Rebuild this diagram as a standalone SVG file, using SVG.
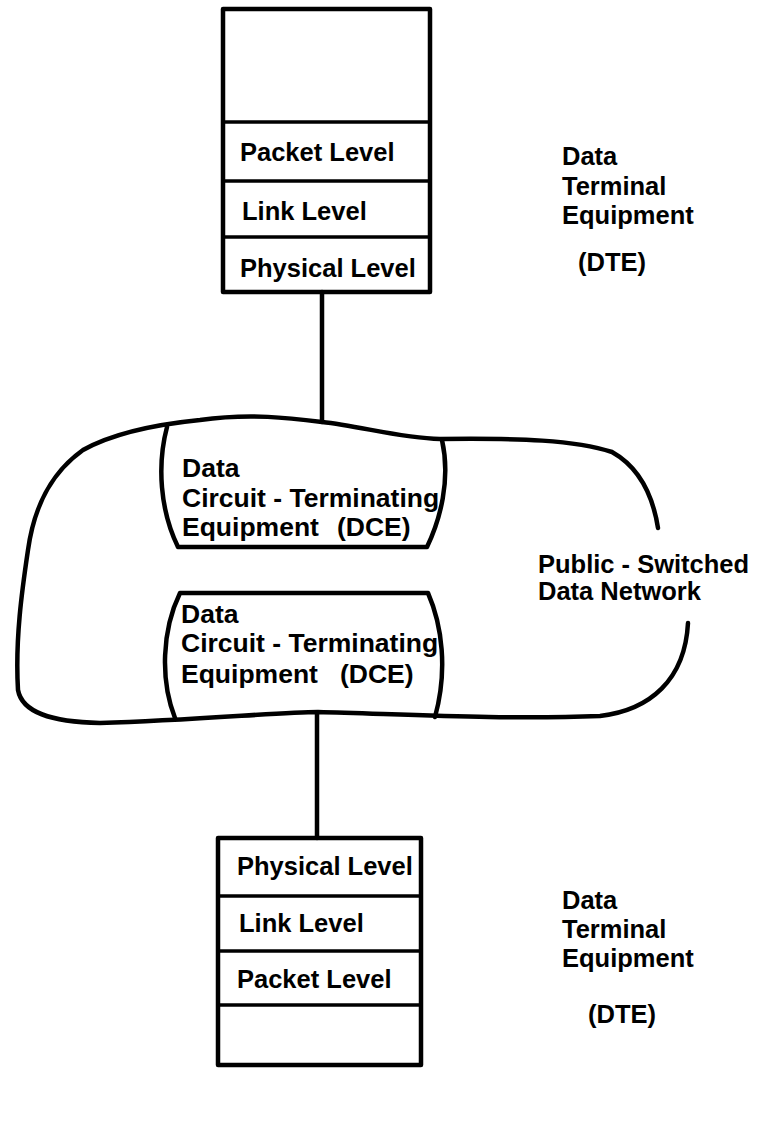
<svg xmlns="http://www.w3.org/2000/svg" width="757" height="1133" viewBox="0 0 757 1133">
<style>
.ln{fill:none;stroke:#000;stroke-width:4.5;stroke-linejoin:round;stroke-linecap:round}
.dv{fill:none;stroke:#000;stroke-width:3.5}
.t{font-family:"Liberation Sans",Arial,sans-serif;font-weight:bold;font-size:25.5px;fill:#000}
.d{font-size:26.5px}
</style>
<rect width="757" height="1133" fill="#fff"/>
<g id="connectors">
<line class="ln" x1="322" y1="292" x2="322" y2="422"/>
<line class="ln" x1="317" y1="713" x2="317" y2="838"/>
</g>
<g id="network">
<path class="ln" d="M 658,528 C 652,490 635,465 612,452 C 575,440 520,438 440,439 C 400,438 360,426 322,422 C 290,418 250,413 200,420 C 150,425 110,435 83,450 C 55,470 35,500 28,550 C 22,590 15,640 18,690 C 22,712 50,722 100,723 C 200,720 280,712 318,712 C 400,714 500,720 600,716 C 650,710 685,680 688,623"/>
<text class="t" x="538" y="573">Public - Switched</text>
<text class="t" x="538" y="600">Data Network</text>
</g>
<g id="dte-top">
<rect class="ln" x="223" y="9" width="207" height="283"/>
<line class="dv" x1="223" y1="122" x2="430" y2="122"/>
<line class="dv" x1="223" y1="181" x2="430" y2="181"/>
<line class="dv" x1="223" y1="237" x2="430" y2="237"/>
<text class="t" x="240" y="161">Packet Level</text>
<text class="t" x="242" y="220">Link Level</text>
<text class="t" x="240" y="277">Physical Level</text>
</g>
<g id="dte-top-label">
<text class="t" x="562" y="165">Data</text>
<text class="t" x="562" y="195">Terminal</text>
<text class="t" x="562" y="224">Equipment</text>
<text class="t" x="578" y="271">(DTE)</text>
</g>
<g id="dce-top">
<path class="ln" d="M 167,427 C 157,465 160,510 178,547 L 427,547 C 440,520 451,480 442,440"/>
<text class="t d" x="182" y="477">Data</text>
<text class="t d" x="182" y="507">Circuit - Terminating</text>
<text class="t d" x="182" y="536">Equipment<tspan x="337">(DCE)</tspan></text>
</g>
<g id="dce-bottom">
<path class="ln" d="M 175,718 C 160,680 162,630 180,593 L 428,593 C 442,625 448,670 435,717"/>
<text class="t d" x="181" y="623">Data</text>
<text class="t d" x="181" y="652">Circuit - Terminating</text>
<text class="t d" x="181" y="683">Equipment<tspan x="340">(DCE)</tspan></text>
</g>
<g id="dte-bottom">
<rect class="ln" x="218" y="838" width="203" height="227"/>
<line class="dv" x1="218" y1="896" x2="421" y2="896"/>
<line class="dv" x1="218" y1="951" x2="421" y2="951"/>
<line class="dv" x1="218" y1="1005" x2="421" y2="1005"/>
<text class="t" x="237" y="875">Physical Level</text>
<text class="t" x="239" y="932">Link Level</text>
<text class="t" x="237" y="988">Packet Level</text>
</g>
<g id="dte-bottom-label">
<text class="t" x="562" y="909">Data</text>
<text class="t" x="562" y="938">Terminal</text>
<text class="t" x="562" y="967">Equipment</text>
<text class="t" x="588" y="1023">(DTE)</text>
</g>
</svg>
